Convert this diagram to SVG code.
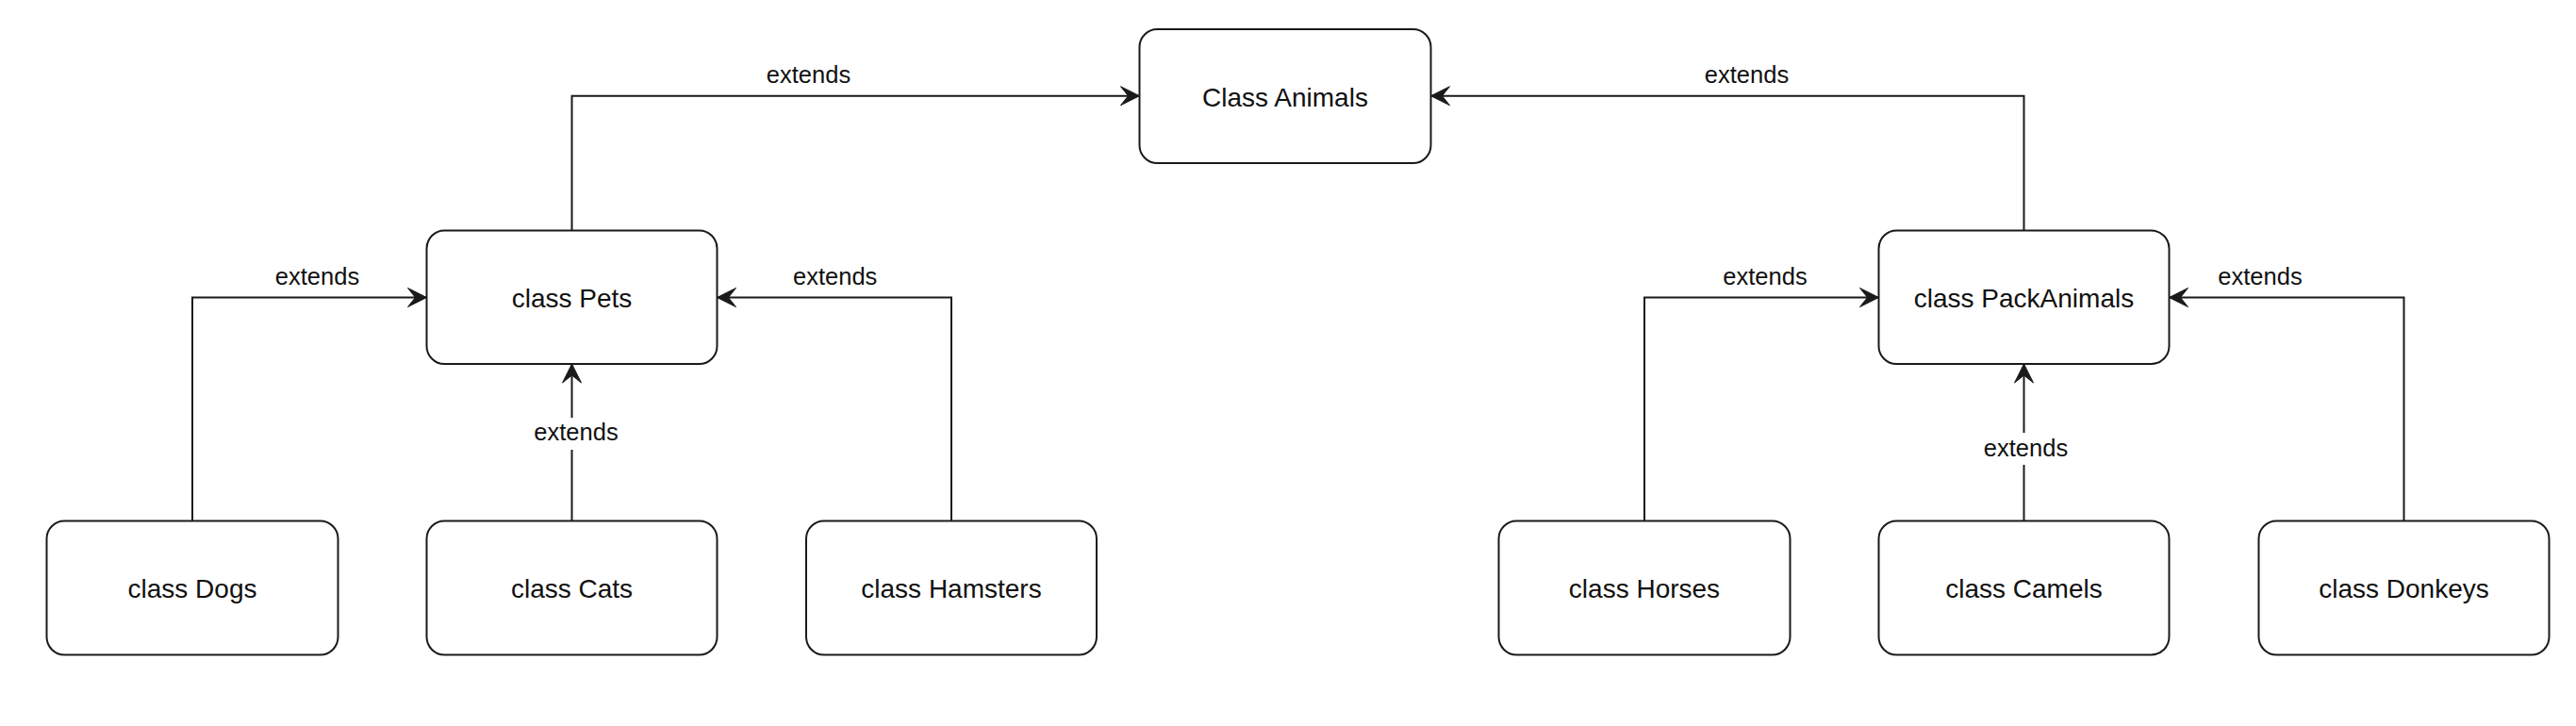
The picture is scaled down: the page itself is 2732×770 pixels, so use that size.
<svg xmlns="http://www.w3.org/2000/svg" width="2732" height="770" viewBox="0 0 2732 770">
  <style>
    .box { fill: #ffffff; stroke: #1a1a1a; stroke-width: 2; }
    .label { font-family: "Liberation Sans", Helvetica, Arial, sans-serif; font-size: 28px; fill: #111111; text-anchor: middle; }
    .edge { fill: none; stroke: #1a1a1a; stroke-width: 2; marker-end: url(#arrow); }
    .elabel { font-family: "Liberation Sans", Helvetica, Arial, sans-serif; font-size: 25.5px; fill: #111111; text-anchor: middle; }
    .lbg { fill: #ffffff; stroke: none; }
  </style>
  <defs>
    <marker id="arrow" markerUnits="userSpaceOnUse" markerWidth="24" markerHeight="24" viewBox="-22 -11 24 22" refX="0" refY="0" orient="auto" overflow="visible">
      <path d="M0,0 L-20,-10 L-12,0 L-20,10 Z" fill="#1a1a1a" stroke="#1a1a1a" stroke-width="1" stroke-linejoin="miter"/>
    </marker>
  </defs>
  <rect width="2732" height="770" fill="#ffffff"/>

  <g id="connectors">
    <g id="edge-pets-animals">
      <path class="edge" d="M606.5,244.5 L606.5,101.7 L1208.5,101.7"/>
      <text class="elabel" x="857.5" y="88.3">extends</text>
    </g>
    <g id="edge-packanimals-animals">
      <path class="edge" d="M2146.5,244.5 L2146.5,101.7 L1517.5,101.7"/>
      <text class="elabel" x="1852.5" y="88.3">extends</text>
    </g>
    <g id="edge-dogs-pets">
      <path class="edge" d="M204,552.5 L204,315.5 L452.5,315.5"/>
      <text class="elabel" x="336.5" y="302.3">extends</text>
    </g>
    <g id="edge-cats-pets">
      <path class="edge" d="M606.5,552.5 L606.5,386"/>
      <rect class="lbg" x="562" y="443" width="98" height="34"/>
      <text class="elabel" x="611" y="467.3">extends</text>
    </g>
    <g id="edge-hamsters-pets">
      <path class="edge" d="M1009,552.5 L1009,315.5 L760.5,315.5"/>
      <text class="elabel" x="885.7" y="302.3">extends</text>
    </g>
    <g id="edge-horses-packanimals">
      <path class="edge" d="M1744,552.5 L1744,315.5 L1992.5,315.5"/>
      <text class="elabel" x="1872" y="302.3">extends</text>
    </g>
    <g id="edge-camels-packanimals">
      <path class="edge" d="M2146.5,552.5 L2146.5,386"/>
      <rect class="lbg" x="2100" y="459" width="98" height="34"/>
      <text class="elabel" x="2148.5" y="483.5">extends</text>
    </g>
    <g id="edge-donkeys-packanimals">
      <path class="edge" d="M2549.5,552.5 L2549.5,315.5 L2300.5,315.5"/>
      <text class="elabel" x="2397" y="302.3">extends</text>
    </g>
  </g>

  <g id="node-animals">
    <rect class="box" x="1208.5" y="31" width="309" height="142" rx="19" ry="19"/>
    <text class="label" x="1363" y="112.5">Class Animals</text>
  </g>
  <g id="node-pets">
    <rect class="box" x="452.5" y="244.5" width="308" height="141.5" rx="19" ry="19"/>
    <text class="label" x="606.5" y="325.7">class Pets</text>
  </g>
  <g id="node-packanimals">
    <rect class="box" x="1992.5" y="244.5" width="308" height="141.5" rx="19" ry="19"/>
    <text class="label" x="2146.5" y="325.7">class PackAnimals</text>
  </g>
  <g id="node-dogs">
    <rect class="box" x="49.5" y="552.5" width="309" height="142" rx="19" ry="19"/>
    <text class="label" x="204" y="634">class Dogs</text>
  </g>
  <g id="node-cats">
    <rect class="box" x="452.5" y="552.5" width="308" height="142" rx="19" ry="19"/>
    <text class="label" x="606.5" y="634">class Cats</text>
  </g>
  <g id="node-hamsters">
    <rect class="box" x="855" y="552.5" width="308" height="142" rx="19" ry="19"/>
    <text class="label" x="1009" y="634">class Hamsters</text>
  </g>
  <g id="node-horses">
    <rect class="box" x="1589.5" y="552.5" width="309" height="142" rx="19" ry="19"/>
    <text class="label" x="1744" y="634">class Horses</text>
  </g>
  <g id="node-camels">
    <rect class="box" x="1992.5" y="552.5" width="308" height="142" rx="19" ry="19"/>
    <text class="label" x="2146.5" y="634">class Camels</text>
  </g>
  <g id="node-donkeys">
    <rect class="box" x="2395.5" y="552.5" width="308" height="142" rx="19" ry="19"/>
    <text class="label" x="2549.5" y="634">class Donkeys</text>
  </g>
</svg>
